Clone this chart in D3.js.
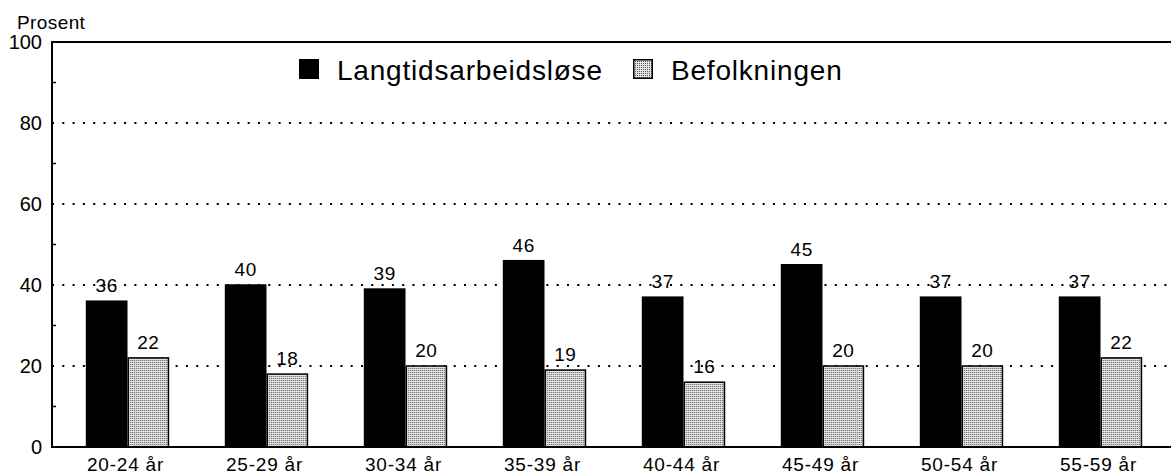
<!DOCTYPE html>
<html>
<head>
<meta charset="utf-8">
<script src="https://cdn.jsdelivr.net/npm/d3@7"></script>
<style>
  html, body { margin: 0; padding: 0; background: #fff; }
  svg { display: block; font-family: "Liberation Sans", Arial, Helvetica, sans-serif; }
</style>
</head>
<body>
<svg id="chart" width="1171" height="476"></svg>
<script>
const categories = ["20-24 år", "25-29 år", "30-34 år", "35-39 år", "40-44 år", "45-49 år", "50-54 år", "55-59 år"];
const seriesNames = ["Langtidsarbeidsløse", "Befolkningen"];
const langtid = [36, 40, 39, 46, 37, 45, 37, 37];
const befolkningen = [22, 18, 20, 19, 16, 20, 20, 22];
const yTicks = [0, 20, 40, 60, 80, 100];
const yMinorTicks = [10, 30, 50, 70, 90];
const yLabel = "Prosent";

(function () {
const svg = d3.select("#chart");
const plotLeft = 52, plotRight = 1171, plotTop = 42, plotBottom = 447;

const defs = svg.append("defs");
const pat = defs.append("pattern").attr("id", "stipple")
  .attr("width", 2).attr("height", 2).attr("patternUnits", "userSpaceOnUse");
pat.append("rect").attr("width", 2).attr("height", 2).attr("fill", "#e2e2e2");
pat.append("rect").attr("width", 1).attr("height", 1).attr("fill", "#5a5a5a");

const y = d3.scaleLinear().domain([0, 100]).range([plotBottom, plotTop]);
const x = d3.scaleBand().domain(categories).range([58, 1170]).paddingInner(0.4).paddingOuter(0.2);
const xs = d3.scaleBand().domain(seriesNames).range([0, x.bandwidth()]).padding(0);

// dotted gridlines
svg.append("g").selectAll("line").data(yTicks.filter(t => t > 0 && t < 100)).join("line")
  .attr("x1", plotLeft).attr("x2", plotRight)
  .attr("y1", d => y(d)).attr("y2", d => y(d))
  .attr("stroke", "#000").attr("stroke-width", 2)
  .attr("stroke-dasharray", "2 8.3");

// bars
const fills = { "Langtidsarbeidsløse": "#000", "Befolkningen": "url(#stipple)" };
const data = categories.map((c, i) => ({ c, vals: [
  { s: seriesNames[0], v: langtid[i] },
  { s: seriesNames[1], v: befolkningen[i] }
]}));

const groups = svg.append("g").selectAll("g").data(data).join("g")
  .attr("transform", d => `translate(${x(d.c)},0)`);

groups.selectAll("rect").data(d => d.vals).join("rect")
  .attr("x", d => xs(d.s) + 0.75)
  .attr("width", xs.bandwidth() - 1.5)
  .attr("y", d => y(d.v))
  .attr("height", d => y(0) - y(d.v))
  .attr("fill", d => fills[d.s])
  .attr("stroke", "#000").attr("stroke-width", 1.5);

groups.selectAll("text").data(d => d.vals).join("text")
  .attr("x", d => xs(d.s) + xs.bandwidth() / 2)
  .attr("y", d => y(d.v) - 9)
  .attr("text-anchor", "middle")
  .attr("font-size", 19)
  .attr("letter-spacing", 0.5)
  .text(d => d.v);

// axes frame
svg.append("line").attr("x1", plotLeft).attr("x2", plotRight).attr("y1", y(100)).attr("y2", y(100))
  .attr("stroke", "#000").attr("stroke-width", 2);
svg.append("line").attr("x1", plotLeft).attr("x2", plotRight).attr("y1", y(0)).attr("y2", y(0))
  .attr("stroke", "#000").attr("stroke-width", 2);
svg.append("line").attr("x1", plotLeft).attr("x2", plotLeft).attr("y1", y(100) - 1).attr("y2", y(0) + 1)
  .attr("stroke", "#000").attr("stroke-width", 2);

// minor ticks
svg.append("g").selectAll("line").data(yMinorTicks).join("line")
  .attr("x1", plotLeft).attr("x2", plotLeft + 4)
  .attr("y1", d => y(d)).attr("y2", d => y(d))
  .attr("stroke", "#000").attr("stroke-width", 1.5);

// y tick labels
svg.append("g").selectAll("text").data(yTicks).join("text")
  .attr("x", 42).attr("y", d => y(d))
  .attr("dy", "0.35em")
  .attr("text-anchor", "end")
  .attr("font-size", 20)
  .text(d => d);

svg.append("text").attr("x", 17).attr("y", 29)
  .attr("font-size", 19).attr("letter-spacing", 0.4)
  .text(yLabel);

// x labels
svg.append("g").selectAll("text").data(categories).join("text")
  .attr("x", d => x(d) + x.bandwidth() / 2 - 2)
  .attr("y", 471)
  .attr("text-anchor", "middle")
  .attr("font-size", 19)
  .attr("letter-spacing", 0.8)
  .text(d => d);

// legend
const legendX = [299, 633];
const leg = svg.append("g").selectAll("g").data(seriesNames).join("g")
  .attr("transform", (d, i) => `translate(${legendX[i]},59)`);
leg.append("rect").attr("x", 0.75).attr("y", 0.75).attr("width", 18.5).attr("height", 18.5)
  .attr("fill", d => fills[d]).attr("stroke", "#000").attr("stroke-width", 1.5);
leg.append("text").attr("x", 38).attr("y", 20.5)
  .attr("font-size", 28).attr("letter-spacing", 0.8)
  .text(d => d);
})();
</script>
</body>
</html>
